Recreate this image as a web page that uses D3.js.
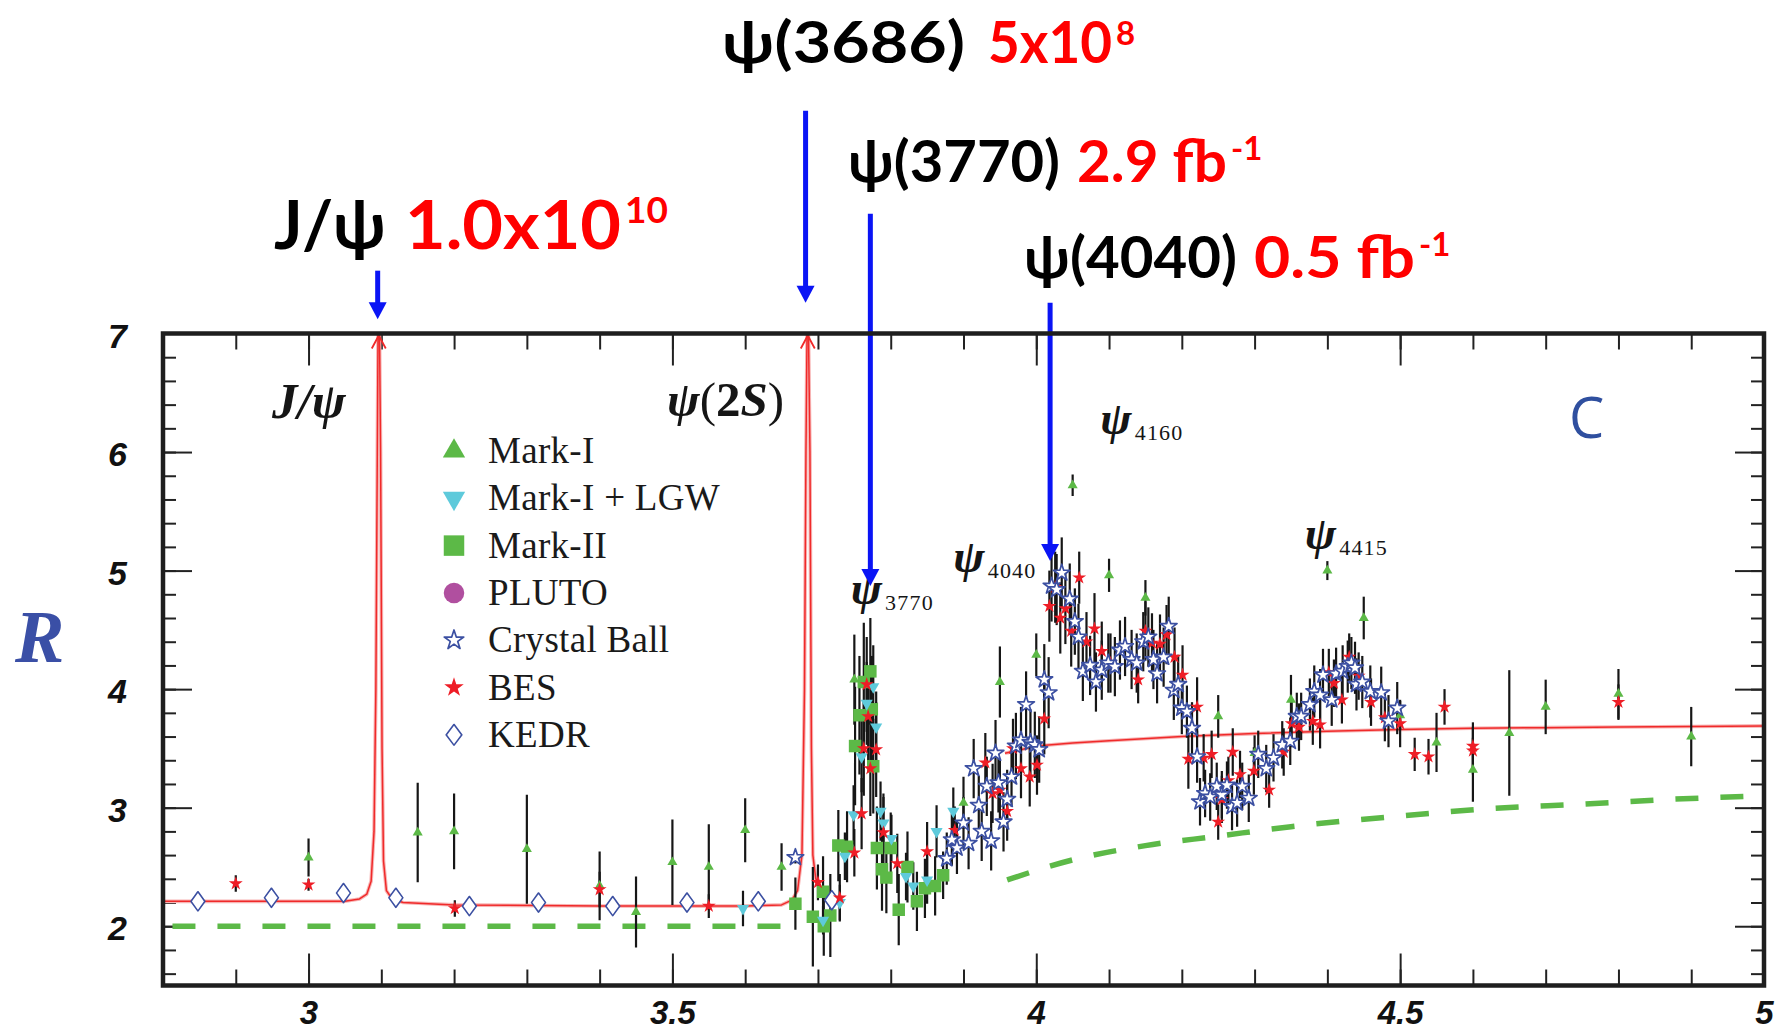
<!DOCTYPE html>
<html>
<head>
<meta charset="utf-8">
<script src="https://cdn.jsdelivr.net/npm/d3@7"></script>
<style>
  html, body { margin: 0; padding: 0; background: #ffffff; }
  svg { display: block; }
</style>
</head>
<body>
<svg id="chart" width="1791" height="1033"></svg>
<script>
// ---------------------------------------------------------------
// R ratio in the charm threshold region, E_cm from 2.8 to 5 GeV
// ---------------------------------------------------------------
const xDomain = [2.8, 5.0];
const yDomain = [1.5, 7.0];
const xTickLabels = [3, 3.5, 4, 4.5, 5];
const yTickLabels = [2, 3, 4, 5, 6, 7];

// each entry: [E (GeV), R, error]
const markI = [
  [3.00, 2.58, 0.16], [3.15, 2.79, 0.42], [3.20, 2.80, 0.32], [3.30, 2.65, 0.46],
  [3.40, 2.34, 0.29], [3.45, 2.12, 0.30], [3.50, 2.54, 0.36], [3.55, 2.50, 0.36],
  [3.60, 2.81, 0.27], [3.65, 2.50, 0.20], [3.75, 4.08, 0.38], [3.90, 3.04, 0.22],
  [3.95, 4.06, 0.30], [4.00, 4.29, 0.18], [4.05, 5.72, 0.09], [4.10, 4.96, 0.14],
  [4.15, 4.77, 0.15], [4.25, 3.77, 0.18], [4.30, 3.46, 0.15], [4.35, 3.91, 0.21],
  [4.40, 5.00, 0.08], [4.45, 4.60, 0.18], [4.50, 3.78, 0.12], [4.55, 3.55, 0.25],
  [4.60, 3.32, 0.27], [4.65, 3.63, 0.53], [4.70, 3.85, 0.23], [4.80, 3.96, 0.21],
  [4.90, 3.60, 0.25]
];

const markILGW = [
  [3.597, 2.15, 0.15], [3.707, 2.05, 0.12], [3.730, 2.20, 0.15], [3.737, 2.59, 0.20],
  [3.749, 2.94, 0.25], [3.760, 3.43, 0.30], [3.767, 3.88, 0.35], [3.776, 4.02, 0.35],
  [3.780, 3.68, 0.30], [3.786, 2.97, 0.25], [3.790, 2.87, 0.25], [3.801, 2.74, 0.20],
  [3.821, 2.42, 0.20], [3.831, 2.34, 0.20], [3.850, 2.39, 0.20], [3.863, 2.80, 0.22],
  [3.886, 2.97, 0.20]
];

const markII = [
  [3.669, 2.19, 0.22], [3.693, 2.08, 0.42], [3.707, 2.29, 0.30], [3.708, 2.00, 0.25],
  [3.717, 2.09, 0.35], [3.728, 2.68, 0.30], [3.740, 2.67, 0.30], [3.751, 3.52, 0.50],
  [3.757, 3.78, 0.50], [3.763, 4.06, 0.50], [3.772, 4.15, 0.45], [3.774, 3.83, 0.45],
  [3.776, 3.35, 0.40], [3.781, 2.66, 0.35], [3.788, 2.48, 0.35], [3.794, 2.41, 0.30],
  [3.800, 2.66, 0.30], [3.811, 2.14, 0.30], [3.823, 2.50, 0.30], [3.836, 2.21, 0.25],
  [3.847, 2.32, 0.25], [3.861, 2.34, 0.25], [3.872, 2.43, 0.20]
];

const pluto = [];

const crystalBall = [
  [3.669, 2.58, 0.05],
  [3.877, 2.57, 0.22], [3.884, 2.73, 0.22], [3.891, 2.66, 0.22], [3.900, 2.87, 0.22],
  [3.907, 2.70, 0.22], [3.914, 3.33, 0.25], [3.921, 3.02, 0.25], [3.925, 2.80, 0.25],
  [3.932, 3.18, 0.25], [3.938, 2.72, 0.25], [3.944, 3.46, 0.28], [3.948, 3.21, 0.25],
  [3.955, 2.88, 0.25], [3.960, 3.07, 0.25], [3.966, 3.26, 0.25], [3.972, 3.52, 0.28],
  [3.979, 3.57, 0.28], [3.986, 3.87, 0.28], [3.992, 3.55, 0.28], [3.998, 3.53, 0.28],
  [4.004, 3.49, 0.28], [4.011, 4.08, 0.30], [4.017, 3.97, 0.30], [4.021, 4.87, 0.30],
  [4.028, 4.84, 0.30], [4.035, 4.98, 0.30], [4.046, 4.76, 0.30], [4.053, 4.57, 0.28],
  [4.058, 4.44, 0.28], [4.064, 4.15, 0.25], [4.074, 4.20, 0.25], [4.082, 4.06, 0.25],
  [4.090, 4.16, 0.25], [4.099, 4.22, 0.25], [4.108, 4.19, 0.25], [4.115, 4.33, 0.25],
  [4.122, 4.36, 0.25], [4.131, 4.25, 0.25], [4.138, 4.22, 0.25], [4.147, 4.40, 0.25],
  [4.154, 4.44, 0.25], [4.161, 4.25, 0.25], [4.166, 4.13, 0.25], [4.175, 4.27, 0.25],
  [4.182, 4.53, 0.25], [4.189, 3.99, 0.25], [4.195, 4.04, 0.25], [4.200, 3.84, 0.22],
  [4.207, 3.81, 0.22], [4.214, 3.67, 0.22], [4.221, 3.43, 0.22], [4.225, 3.05, 0.20],
  [4.232, 3.12, 0.20], [4.239, 3.09, 0.20], [4.248, 3.18, 0.20], [4.255, 3.11, 0.20],
  [4.262, 3.19, 0.20], [4.269, 3.01, 0.20], [4.276, 3.04, 0.20], [4.283, 3.18, 0.20],
  [4.292, 3.08, 0.20], [4.305, 3.45, 0.20], [4.316, 3.33, 0.20], [4.326, 3.42, 0.20],
  [4.338, 3.53, 0.20], [4.349, 3.56, 0.20], [4.358, 3.77, 0.20], [4.364, 3.77, 0.20],
  [4.376, 3.87, 0.22], [4.382, 3.98, 0.22], [4.390, 3.95, 0.22], [4.394, 4.12, 0.22],
  [4.406, 3.91, 0.22], [4.412, 4.13, 0.22], [4.421, 4.15, 0.22], [4.428, 4.19, 0.22],
  [4.433, 4.22, 0.22], [4.438, 4.18, 0.22], [4.440, 4.04, 0.22], [4.448, 4.06, 0.22],
  [4.459, 3.98, 0.22], [4.474, 3.97, 0.22], [4.484, 3.73, 0.22], [4.496, 3.84, 0.22]
];

const bes = [
  [2.900, 2.36, 0.07], [3.000, 2.35, 0.05], [3.201, 2.15, 0.07], [3.400, 2.31, 0.15],
  [3.550, 2.17, 0.10], [3.700, 2.37, 0.15], [3.730, 2.24, 0.20], [3.750, 2.62, 0.20],
  [3.760, 2.95, 0.30], [3.767, 4.04, 0.40], [3.769, 3.77, 0.40], [3.763, 3.50, 0.40],
  [3.780, 3.49, 0.40], [3.772, 3.33, 0.40], [3.790, 2.79, 0.30], [3.809, 2.53, 0.25],
  [3.850, 2.63, 0.25], [3.888, 2.81, 0.20], [3.930, 3.38, 0.25], [3.940, 3.12, 0.25],
  [3.950, 3.15, 0.25], [3.960, 2.97, 0.25], [3.968, 3.50, 0.25], [3.979, 3.33, 0.25],
  [3.991, 3.26, 0.25], [4.001, 3.36, 0.25], [4.011, 3.75, 0.30], [4.018, 4.70, 0.30],
  [4.026, 4.86, 0.30], [4.033, 4.60, 0.30], [4.040, 4.68, 0.30], [4.048, 4.49, 0.30],
  [4.059, 4.94, 0.22], [4.069, 4.40, 0.25], [4.080, 4.51, 0.30], [4.090, 4.32, 0.25],
  [4.102, 4.22, 0.25], [4.140, 4.08, 0.20], [4.150, 4.49, 0.25], [4.159, 4.39, 0.25],
  [4.170, 4.38, 0.25], [4.179, 4.46, 0.25], [4.190, 4.27, 0.25], [4.201, 4.12, 0.25],
  [4.221, 3.85, 0.25], [4.209, 3.41, 0.25], [4.230, 3.42, 0.20], [4.241, 3.45, 0.20],
  [4.250, 2.88, 0.15], [4.255, 3.07, 0.20], [4.270, 3.47, 0.20], [4.264, 3.23, 0.20],
  [4.280, 3.28, 0.20], [4.299, 3.31, 0.20], [4.320, 3.15, 0.15], [4.340, 3.47, 0.20],
  [4.351, 3.71, 0.20], [4.361, 3.68, 0.20], [4.380, 3.73, 0.20], [4.390, 3.70, 0.20],
  [4.402, 4.14, 0.20], [4.409, 4.05, 0.20], [4.420, 3.91, 0.20], [4.430, 4.27, 0.20],
  [4.443, 4.11, 0.20], [4.460, 3.89, 0.20], [4.479, 3.76, 0.20], [4.500, 3.71, 0.20],
  [4.520, 3.45, 0.14], [4.539, 3.43, 0.15], [4.561, 3.85, 0.15], [4.600, 3.52, 0.20],
  [4.600, 3.48, 0.20], [4.800, 3.89, 0.15]
];

const kedr = [
  [2.848, 2.21, 0.04], [2.949, 2.24, 0.04], [3.048, 2.28, 0.04], [3.120, 2.24, 0.04],
  [3.221, 2.17, 0.04], [3.316, 2.20, 0.04], [3.418, 2.17, 0.04], [3.520, 2.20, 0.04],
  [3.618, 2.21, 0.04], [3.719, 2.22, 0.04]
];

// theory curve below open charm threshold, with J/psi and psi(2S) peaks (clipped at 7)
const curveLow = [
  [2.80, 2.21], [2.95, 2.21], [3.05, 2.21], [3.070, 2.23], [3.080, 2.27], [3.086, 2.38],
  [3.090, 2.80], [3.0925, 4.00], [3.0945, 6.00], [3.0955, 7.00], [3.0975, 7.00],
  [3.0990, 6.00], [3.1010, 3.50], [3.1030, 2.55], [3.107, 2.30], [3.115, 2.23],
  [3.130, 2.20], [3.20, 2.18], [3.40, 2.17], [3.60, 2.17], [3.650, 2.18], [3.664, 2.22],
  [3.672, 2.30], [3.678, 2.60], [3.6815, 4.00], [3.6835, 6.00], [3.6850, 7.00],
  [3.6870, 7.00], [3.6890, 6.00], [3.6910, 3.50], [3.6930, 2.60], [3.697, 2.40],
  [3.704, 2.29], [3.712, 2.23], [3.722, 2.19]
];
const peakTops = [3.0965, 3.686];

// theory curve above open charm threshold
const curveHigh = [
  [3.957, 3.46], [3.980, 3.49], [4.000, 3.52], [4.050, 3.545], [4.100, 3.565],
  [4.200, 3.60], [4.300, 3.625], [4.400, 3.645], [4.500, 3.66], [4.600, 3.67],
  [4.700, 3.675], [4.800, 3.68], [4.900, 3.685], [5.000, 3.69]
];

// parton-level (udsc continuum) expectation, dashed
const partonLow = [[2.813, 2.0], [3.669, 2.0]];
const partonHigh = [
  [3.960, 2.39], [4.050, 2.56], [4.150, 2.68], [4.250, 2.76], [4.350, 2.84],
  [4.500, 2.93], [4.620, 2.99], [4.750, 3.03], [4.870, 3.07], [5.000, 3.10]
];

// resonance labels inside the frame
const resLabels = [
  { main: "\u03C8", sub: "3770", E: 3.745, R: 4.72 },
  { main: "\u03C8", sub: "4040", E: 3.886, R: 4.99 },
  { main: "\u03C8", sub: "4160", E: 4.088, R: 6.15 },
  { main: "\u03C8", sub: "4415", E: 4.369, R: 5.18 }
];

// data sample annotations above the frame
const samples = [
  { name: "J/\u03C8", amount: "1.0x10", sup: "10", arrowE: 3.095, tip: 7.12, tail: 7.53 },
  { name: "\u03C8(3686)", amount: "5x10", sup: "8", arrowE: 3.683, tip: 7.26, tail: 8.88 },
  { name: "\u03C8(3770)", amount: "2.9 fb", sup: "-1", arrowE: 3.772, tip: 4.87, tail: 8.01 },
  { name: "\u03C8(4040)", amount: "0.5 fb", sup: "-1", arrowE: 4.019, tip: 5.08, tail: 7.26 }
];

// ---------------------------------------------------------------
const GREEN = "#5cb947", CYAN = "#5ecadb", MAGENTA = "#b04f9f",
      NAVY = "#3c50a2", RED = "#ee1d26", CURVE = "#f02a2a", ARROW = "#0a14f5";

const svg = d3.select("#chart");
const frameL = 163, frameR = 1764, frameT = 333.5, frameB = 985.5;

const x = d3.scaleLinear().domain(xDomain).range([frameL, frameR]);
const y = d3.scaleLinear().domain(yDomain).range([frameB, frameT]);

// ---- ticks (all inward) ----
const minorX = d3.range(28, 51).map(d => d / 10);
const majorX = [3, 3.5, 4, 4.5];
const minorY = d3.range(8, 36).map(d => +(d * 0.2).toFixed(1));
const majorY = [2, 3, 4, 5, 6];

function tickGroup(axis, tx, ty) {
  const g = svg.append("g").attr("transform", `translate(${tx},${ty})`).call(axis);
  g.select(".domain").remove();
  g.selectAll(".tick line").attr("stroke", "#222").attr("stroke-width", 2);
  g.selectAll("text").remove();
  return g;
}
tickGroup(d3.axisBottom(x).tickValues(minorX).tickSize(-16).tickFormat(""), 0, frameB);
tickGroup(d3.axisBottom(x).tickValues(majorX).tickSize(-32).tickFormat(""), 0, frameB);
tickGroup(d3.axisTop(x).tickValues(minorX).tickSize(-16).tickFormat(""), 0, frameT);
tickGroup(d3.axisTop(x).tickValues(majorX).tickSize(-32).tickFormat(""), 0, frameT);
tickGroup(d3.axisLeft(y).tickValues(minorY).tickSize(-13).tickFormat(""), frameL, 0);
tickGroup(d3.axisLeft(y).tickValues(majorY).tickSize(-29).tickFormat(""), frameL, 0);
tickGroup(d3.axisRight(y).tickValues(minorY).tickSize(-13).tickFormat(""), frameR, 0);
tickGroup(d3.axisRight(y).tickValues(majorY).tickSize(-29).tickFormat(""), frameR, 0);

// ---- tick labels ----
const xLab = svg.append("g").attr("transform", `translate(0,${frameB})`)
  .call(d3.axisBottom(x).tickValues(xTickLabels).tickSize(0).tickPadding(15).tickFormat(d => d));
xLab.select(".domain").remove();
xLab.selectAll("text")
  .attr("font-family", "'Liberation Sans', Arial, sans-serif")
  .attr("font-weight", "bold").attr("font-style", "italic")
  .attr("font-size", 33).attr("fill", "#111");

const yLab = svg.append("g").attr("transform", `translate(${frameL},0)`)
  .call(d3.axisLeft(y).tickValues(yTickLabels).tickSize(0).tickPadding(36).tickFormat(d => d));
yLab.select(".domain").remove();
yLab.selectAll("text")
  .attr("font-family", "'Liberation Sans', Arial, sans-serif")
  .attr("font-weight", "bold").attr("font-style", "italic")
  .attr("font-size", 34).attr("fill", "#111").attr("dy", "0.4em");

// axis title
svg.append("text").attr("x", 15).attr("y", 662)
  .attr("font-family", "'Liberation Serif', 'Times New Roman', serif")
  .attr("font-style", "italic").attr("font-weight", "bold")
  .attr("font-size", 74).attr("fill", "#3a4fa6").text("R");

// ---- plot contents (clipped to frame) ----
svg.append("clipPath").attr("id", "plotClip")
  .append("rect").attr("x", frameL).attr("y", frameT - 1)
  .attr("width", frameR - frameL).attr("height", frameB - frameT + 1);
const plot = svg.append("g").attr("clip-path", "url(#plotClip)");

const line = d3.line().x(d => x(d[0])).y(d => y(d[1]));
const smooth = d3.line().x(d => x(d[0])).y(d => y(d[1])).curve(d3.curveMonotoneX);

// dashed parton curves
[partonLow, partonHigh].forEach(pts => {
  plot.append("path").attr("d", smooth(pts)).attr("fill", "none")
    .attr("stroke", GREEN).attr("stroke-width", 5.5)
    .attr("stroke-dasharray", "23,22");
});

// theory curves: soft halo and red core
[curveLow, curveHigh].forEach(pts => {
  plot.append("path").attr("d", line(pts)).attr("fill", "none")
    .attr("stroke", "#f7b4b4").attr("stroke-width", 3.6).attr("stroke-linejoin", "round");
  plot.append("path").attr("d", line(pts)).attr("fill", "none")
    .attr("stroke", CURVE).attr("stroke-width", 1.5).attr("stroke-linejoin", "round");
});

// off-scale marks at the peak tops
peakTops.forEach(E => {
  const px = x(E), py = y(7);
  svg.append("path")
    .attr("d", `M${px - 7},${py + 15} L${px},${py + 2} L${px + 7},${py + 15}`)
    .attr("fill", "none").attr("stroke", CURVE).attr("stroke-width", 1.8);
});

// series definitions
const series = [
  { name: "Mark-I", data: markI, type: d3.symbolTriangle, size: 44, lsize: 215, rot: 0, fill: GREEN },
  { name: "Mark-I + LGW", data: markILGW, type: d3.symbolTriangle, size: 64, lsize: 215, rot: 180, fill: CYAN },
  { name: "Mark-II", data: markII, type: d3.symbolSquare, size: 156, lsize: 420, rot: 0, fill: GREEN },
  { name: "PLUTO", data: pluto, type: d3.symbolCircle, size: 110, lsize: 330, rot: 0, fill: MAGENTA },
  { name: "Crystal Ball", data: crystalBall, type: d3.symbolStar, size: 86, lsize: 118, rot: 0, fill: "#ffffff", stroke: NAVY, sw: 1.7 },
  { name: "BES", data: bes, type: d3.symbolStar, size: 60, lsize: 118, rot: 0, fill: RED },
  { name: "KEDR", data: kedr, type: d3.symbolDiamond, size: 108, lsize: 125, rot: 0, fill: "#ffffff", stroke: NAVY, sw: 1.7, sx: 1.25 }
];

// error bars
series.forEach(s => {
  plot.append("g").selectAll("line").data(s.data).join("line")
    .attr("x1", d => x(d[0])).attr("x2", d => x(d[0]))
    .attr("y1", d => y(d[1] - d[2])).attr("y2", d => y(d[1] + d[2]))
    .attr("stroke", "#161616").attr("stroke-width", 2.2);
});

// markers
const drawOrder = ["Mark-II", "Mark-I + LGW", "Mark-I", "KEDR", "BES", "Crystal Ball"];
drawOrder.forEach(n => {
  const s = series.find(d => d.name === n);
  plot.append("g").selectAll("path").data(s.data).join("path")
    .attr("d", d3.symbol().type(s.type).size(s.size))
    .attr("transform", d => `translate(${x(d[0])},${y(d[1])}) rotate(${s.rot}) scale(${s.sx || 1},1)`)
    .attr("fill", s.fill)
    .attr("stroke", s.stroke || "none")
    .attr("stroke-width", s.sw ? s.sw / (s.sx || 1) : 0)
    .attr("stroke-linejoin", "round");
});

// ---- legend ----
const legend = svg.append("g").attr("transform", "translate(454,451)");
series.forEach((s, i) => {
  const row = legend.append("g").attr("transform", `translate(0,${i * 47.3})`);
  row.append("path")
    .attr("d", d3.symbol().type(s.type).size(s.lsize))
    .attr("transform", `rotate(${s.rot}) scale(${s.sx ? 1.3 : 1},1)`)
    .attr("fill", s.fill).attr("stroke", s.stroke || "none")
    .attr("stroke-width", s.sw ? s.sw / (s.sx ? 1.3 : 1) : 0)
    .attr("stroke-linejoin", "round");
  row.append("text").attr("x", 34).attr("y", 12)
    .attr("font-family", "'Liberation Serif', 'Times New Roman', serif")
    .attr("font-size", 37).attr("letter-spacing", 0.3)
    .attr("fill", "#1a1a1a").text(s.name);
});

// ---- resonance labels ----
const serif = "'Liberation Serif', 'Times New Roman', serif";
svg.append("text").attr("x", 272).attr("y", 418)
  .attr("font-family", serif).attr("font-size", 51)
  .attr("font-style", "italic").attr("font-weight", "bold").attr("fill", "#151515")
  .text("J/\u03C8");
const p2s = svg.append("text").attr("x", 667).attr("y", 416)
  .attr("font-family", serif).attr("font-size", 49).attr("fill", "#151515");
p2s.append("tspan").attr("font-style", "italic").attr("font-weight", "bold").text("\u03C8");
p2s.append("tspan").text("(");
p2s.append("tspan").attr("font-weight", "bold").text("2");
p2s.append("tspan").attr("font-style", "italic").attr("font-weight", "bold").text("S");
p2s.append("tspan").text(")");

resLabels.forEach(r => {
  const t = svg.append("text").attr("x", x(r.E)).attr("y", y(r.R))
    .attr("font-family", serif).attr("fill", "#151515");
  t.append("tspan").attr("font-style", "italic").attr("font-weight", "bold")
    .attr("font-size", 47).text(r.main);
  t.append("tspan").attr("font-size", 22).attr("dx", 3).attr("dy", 6)
    .attr("letter-spacing", 1.2).text(r.sub);
});

svg.append("text").attr("x", 1569).attr("y", 438)
  .attr("font-family", "'Open Sans', Lato, sans-serif").attr("font-size", 56)
  .attr("fill", "#2f4f9f").text("C");

// ---- sample annotations with arrows ----
const sans = "Lato, 'Open Sans', sans-serif";
const layout = [
  { x: 274, base: 249, size: 67, w1: 112, gap: 19, w2: 216, supSize: 37, supRise: 26 },
  { x: 722, base: 63, size: 58, w1: 243, gap: 23, w2: 124, supSize: 33, supRise: 18 },
  { x: 848, base: 182, size: 58, w1: 212, gap: 17, w2: 150, supSize: 33, supRise: 22 },
  { x: 1024, base: 278, size: 58, w1: 213, gap: 17, w2: 161, supSize: 33, supRise: 22 }
];
samples.forEach((s, i) => {
  const L = layout[i];
  const g = svg.append("g").attr("font-family", sans).attr("font-weight", "bold");
  g.append("text").attr("x", L.x).attr("y", L.base).attr("font-size", L.size)
    .attr("fill", "#000").attr("textLength", L.w1).attr("lengthAdjust", "spacingAndGlyphs")
    .text(s.name);
  const x2 = L.x + L.w1 + L.gap;
  g.append("text").attr("x", x2).attr("y", L.base).attr("font-size", L.size)
    .attr("fill", "#ff0000").attr("textLength", L.w2).attr("lengthAdjust", "spacingAndGlyphs")
    .text(s.amount);
  g.append("text").attr("x", x2 + L.w2 + 4).attr("y", L.base - L.supRise)
    .attr("font-size", L.supSize).attr("fill", "#ff0000").text(s.sup);

  // arrow down to the resonance
  const ax = x(s.arrowE), y0 = y(s.tail), y1 = y(s.tip);
  svg.append("line").attr("x1", ax).attr("x2", ax).attr("y1", y0).attr("y2", y1 - 14)
    .attr("stroke", ARROW).attr("stroke-width", 5);
  svg.append("path")
    .attr("d", `M${ax - 9},${y1 - 17} L${ax + 9},${y1 - 17} L${ax},${y1} Z`)
    .attr("fill", ARROW);
});

// ---- frame ----
svg.append("rect").attr("x", frameL).attr("y", frameT)
  .attr("width", frameR - frameL).attr("height", frameB - frameT)
  .attr("fill", "none").attr("stroke", "#1e1e1e").attr("stroke-width", 4.5);
</script>
</body>
</html>
